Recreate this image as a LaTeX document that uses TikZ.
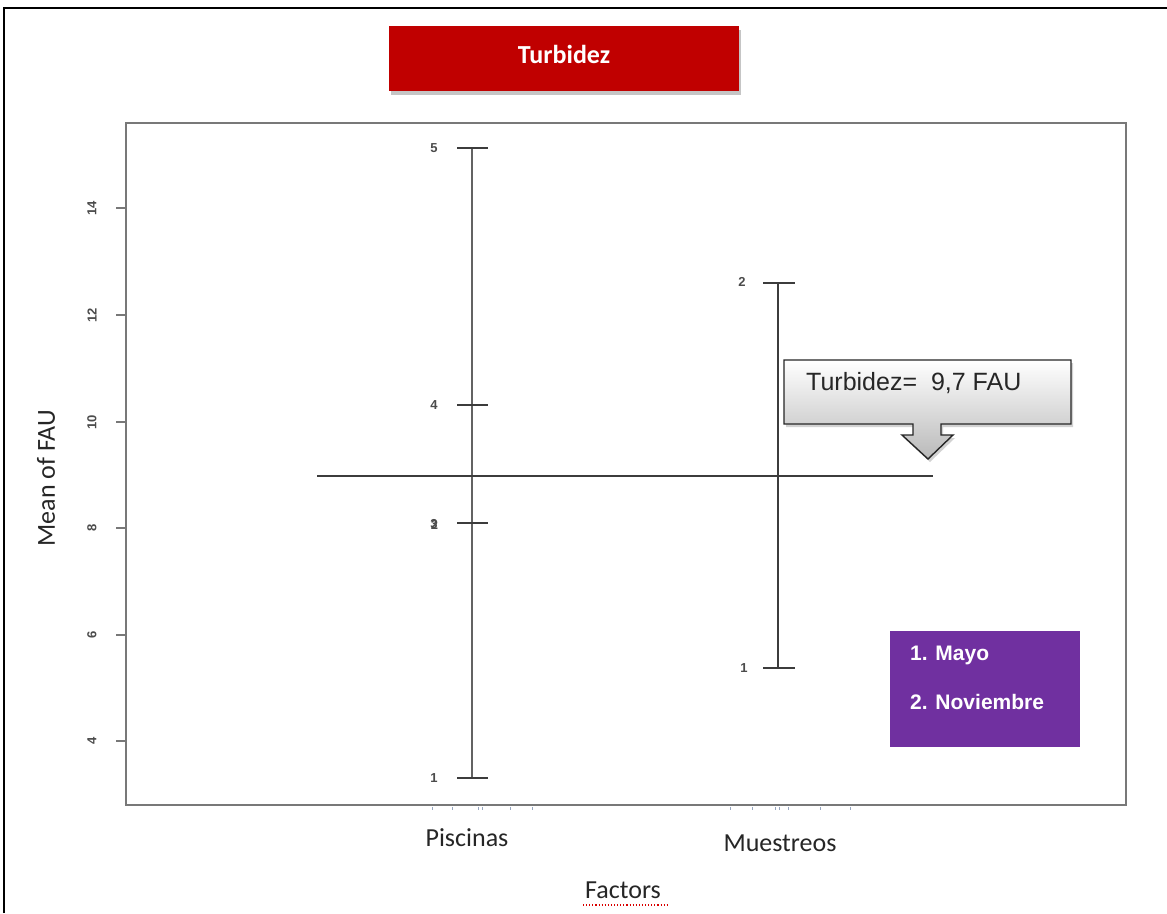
\documentclass[tikz,border=0pt]{standalone}
\usepackage{fontspec}
\setmainfont{Liberation Sans}
\newfontfamily\carlito{Carlito}
\usetikzlibrary{shadows}
\definecolor{titlered}{RGB}{192,0,0}
\definecolor{legpurple}{RGB}{112,48,160}
\definecolor{framegray}{RGB}{120,120,120}
\definecolor{bargray}{RGB}{60,60,60}
\definecolor{ticklab}{RGB}{75,75,75}
\definecolor{rugblue}{RGB}{150,165,190}
\tikzset{
  tlab/.style={font=\bfseries\fontsize{13}{15}\selectfont, text=ticklab, inner sep=0pt},
  barlab/.style={font=\bfseries\fontsize{13}{15}\selectfont, text=ticklab, inner sep=0pt},
  axlab/.style={font=\carlito\fontsize{26}{30}\selectfont, text=black!85, inner sep=0pt},
  ebar/.style={draw=bargray, line width=1.6pt},
  rug/.style={draw=rugblue, line width=1pt}
}
\begin{document}
\begin{tikzpicture}[x=1pt,y=-1pt]
\useasboundingbox (0,0) rectangle (1167,913);
\fill[white] (0,0) rectangle (1167,913);
% outer border (top and left visible)
\draw[line width=2.6pt, black] (4,913) -- (4,8) -- (1167,8);
% plot frame
\draw[framegray, line width=2.2pt] (126,123) rectangle (1126,805);
% y ticks
\foreach \v/\yy in {4/741,6/635,8/528,10/422,12/315,14/208}{
  \draw[framegray, line width=1.4pt] (116,\yy) -- (126,\yy);
  \node[tlab, rotate=90] (yt\v) at (92,\yy) {\v};
}
\node[axlab, rotate=90] (ylab) at (46,478) {Mean of FAU};
% title
\node[fill=titlered, minimum width=350pt, minimum height=65pt, drop shadow={opacity=0.45, shadow xshift=2pt, shadow yshift=-4pt},
      font=\carlito\bfseries\fontsize{26}{30}\selectfont, text=white, inner sep=0pt] (title) at (564,58) {\raisebox{8pt}{Turbidez}};
% Piscinas error bar
\coordinate (p5) at (472,148);
\coordinate (p1) at (472,778);
\draw[ebar, draw=bargray!80] (p5) -- (p1);
\foreach \yy in {148,405,523,778}{ \draw[ebar] (457,\yy) -- (488,\yy); }
\draw[ebar, line width=2.4pt] (457,523) -- (488,523);
\node[barlab] (l5) at (434,148) {5};
\node[barlab] (l4) at (434,405) {4};
\node[barlab] (l3) at (434,524) {3};
\node[barlab] (l2) at (434.6,525) {2};
\node[barlab] (l1) at (434,778) {1};
% Muestreos error bar
\coordinate (m2) at (778,283);
\coordinate (m1) at (778,668);
\draw[ebar] (m2) -- (m1);
\draw[ebar] (763,283) -- (795,283);
\draw[ebar] (763,668) -- (795,668);
\node[barlab] (n2) at (742,282) {2};
\node[barlab] (n1) at (744,668) {1};
% grand mean line
\coordinate (ma) at (317,476);
\coordinate (mb) at (933,476);
\draw[bargray, line width=1.6pt] (ma) -- (mb);
% rug marks
\foreach \xx in {432,452,478,482,510,532,730,752,775,779,788,820,850}{
  \draw[rug] (\xx,807) -- (\xx,809.5);
}
% x labels
\node[axlab] (pis) at (467,838) {Piscinas};
\node[axlab] (mue) at (780,843) {Muestreos};
\node[axlab] (fac) at (623,890) {Factors};
\draw[red!85!black, line width=1.1pt, dotted] (583,905) -- (667,905);
% callout
\path[draw=black!85, line width=1.4pt, top color=white, bottom color=gray!55, drop shadow={opacity=0.35, shadow xshift=2pt, shadow yshift=-3pt}]
  (784,360) -- (1071,360) -- (1071,424) -- (941,424) -- (941,435) -- (953,435) -- (928,459)
  -- (902,435) -- (913,435) -- (913,424) -- (784,424) -- cycle;
\node[font=\fontsize{25}{29}\selectfont, text=black!85, anchor=west, inner sep=0pt] (call) at (806,383) {Turbidez=\ \ 9,7 FAU};
% legend
\node[fill=legpurple, minimum width=190pt, minimum height=116pt, inner sep=0pt] (leg) at (985,689) {};
\node[font=\bfseries\fontsize{21}{25}\selectfont, text=white, anchor=west, inner sep=0pt] (leg1) at (910,655) {1. Mayo};
\node[font=\bfseries\fontsize{21}{25}\selectfont, text=white, anchor=west, inner sep=0pt] (leg2) at (910,702) {2. Noviembre};
\end{tikzpicture}
\end{document}
